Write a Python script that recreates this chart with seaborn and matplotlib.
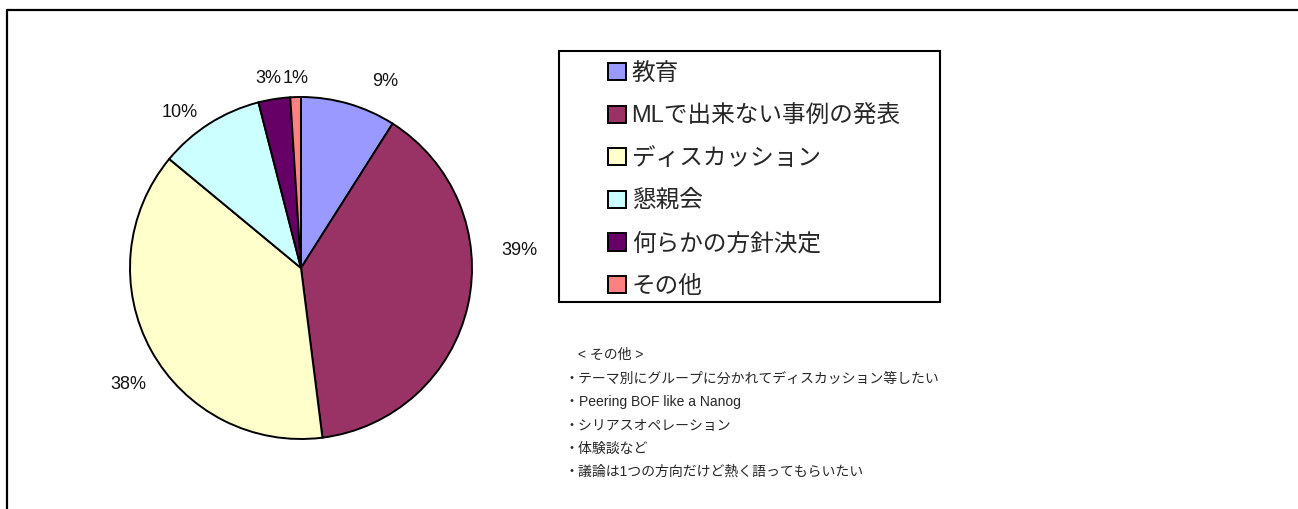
import matplotlib
matplotlib.use('Agg')
import matplotlib.pyplot as plt
from matplotlib.patches import Rectangle
from matplotlib.lines import Line2D
import seaborn as sns

# ── data ────────────────────────────────────────────────────────────────────
categories = ['教育', 'MLで出来ない事例の発表', 'ディスカッション', '懇親会',
              '何らかの方針決定', 'その他']
shares = [9, 39, 38, 10, 3, 1]
colors = ['#9999FF', '#993366', '#FFFFCC', '#CCFFFF', '#660066', '#FF8080']
other_title = '< その他 >'
other_notes = [
    'テーマ別にグループに分かれてディスカッション等したい',
    'Peering BOF like a Nanog',
    'シリアスオペレーション',
    '体験談など',
    '議論は1つの方向だけど熱く語ってもらいたい',
]
# where each percentage label sits (pie radius = 1)
label_pos = [(0.49, 1.09), (1.28, 0.10), (-1.01, -0.68),
             (-0.71, 0.91), (-0.19, 1.11), (-0.03, 1.11)]

sns.set_theme(style='white')
plt.rcParams['font.family'] = ['Liberation Sans', 'Noto Sans CJK JP', 'DejaVu Sans']

W, H = 1298, 509
fig = plt.figure(figsize=(W / 100, H / 100), dpi=100)
fig.patch.set_facecolor('white')

# pie axes: centre (301, 268) px, radius 171 px
R, cx, cy = 171, 301, 268
half = 1.5 * R
ax = fig.add_axes([(cx - half) / W, (H - cy - half) / H, 2 * half / W, 2 * half / H])
wedges, texts, autotexts = ax.pie(
    shares, colors=colors, startangle=90, counterclock=False,
    autopct='%.0f%%', pctdistance=1.2,
    wedgeprops=dict(edgecolor='black', linewidth=1.4),
    textprops=dict(fontsize=13, color='#111111'),
)
for t, (x, y) in zip(autotexts, label_pos):
    t.set_position((x, y))
ax.set_xlim(-1.5, 1.5)
ax.set_ylim(-1.5, 1.5)
ax.set_aspect('equal')
ax.axis('off')

# legend box
fig.patches.append(Rectangle((559 / W, 1 - 302 / H), (940 - 559) / W, (302 - 51) / H,
                             transform=fig.transFigure, fill=False,
                             edgecolor='black', linewidth=1.5))
fig.legend(wedges, categories, loc='upper left',
           bbox_to_anchor=(608 / W, 1 - 63 / H), frameon=False,
           fontsize=17, handlelength=0.75, handleheight=0.75,
           handletextpad=0.25, labelspacing=0.86, borderpad=0, borderaxespad=0)

# notes under the legend
fig.text(578 / W, 1 - 355 / H, other_title, fontsize=10, va='center')
for i, note in enumerate(other_notes):
    fig.text(565 / W, 1 - (379 + i * 23.3) / H, '・' + note, fontsize=10, va='center')

# outer frame (top and left edges)
fig.add_artist(Line2D([7 / W, 1], [1 - 10 / H, 1 - 10 / H], transform=fig.transFigure,
                      color='black', linewidth=1.6))
fig.add_artist(Line2D([7 / W, 7 / W], [0, 1 - 10 / H], transform=fig.transFigure,
                      color='black', linewidth=1.6))

fig.savefig('out.png', dpi=100)
